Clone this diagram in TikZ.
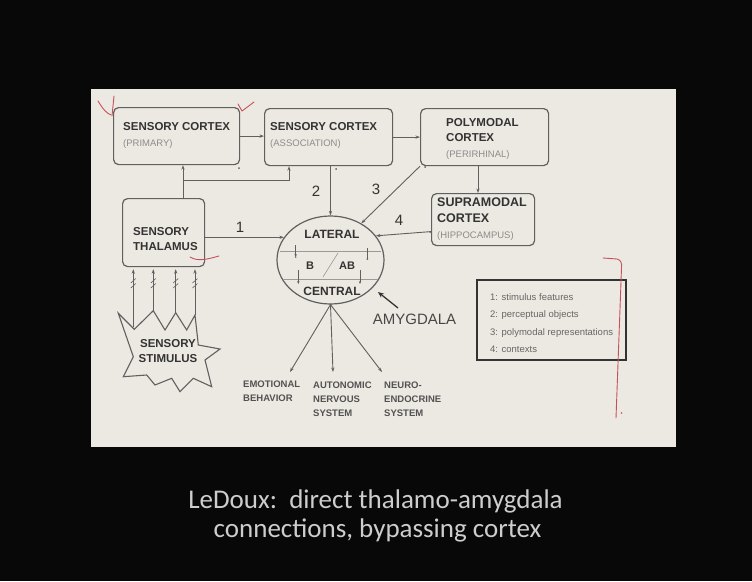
\documentclass[tikz,border=0pt]{standalone}
\usepackage{fontspec}
\setmainfont{Liberation Sans}
\newfontfamily\capfont{Carlito}
\usetikzlibrary{arrows.meta,shapes.geometric,calc}
\definecolor{slidebg}{HTML}{ECE9E2}
\definecolor{ink}{HTML}{333333}
\definecolor{lineg}{HTML}{606060}
\definecolor{subg}{HTML}{8C8C8C}
\definecolor{innerg}{HTML}{9A9A9A}
\definecolor{legtxt}{HTML}{666666}
\definecolor{penred}{HTML}{C8505C}
\definecolor{captxt}{HTML}{CDCDCD}
\newcommand\boxsub[1]{{\mdseries\fontsize{9.5}{15.5}\selectfont\color{subg}#1}}
\begin{document}
\begin{tikzpicture}[x=1pt,y=-1pt,
  box/.style={draw=lineg,line width=1.2pt,rounded corners=5pt,anchor=north west,inner sep=0pt},
  ttl/.style={anchor=west,align=left,inner sep=0pt,text=ink,font=\bfseries\fontsize{11.5}{15.5}\selectfont},
  inl/.style={inner sep=0pt,text=ink,font=\bfseries\fontsize{12}{12}\selectfont},
  outl/.style={anchor=west,align=left,inner sep=0pt,text=ink!85,font=\bfseries\fontsize{9.5}{14}\selectfont},
  conn/.style={draw=lineg,line width=0.9pt},
  arr/.style={conn,-{Stealth[length=4.5pt,width=3.2pt]}},
  iarr/.style={draw=lineg,line width=0.6pt,-{Stealth[length=3pt,width=2.4pt]}},
  num/.style={inner sep=0pt,text=ink,font=\fontsize{15}{15}\selectfont},
  pen/.style={draw=penred,line width=0.9pt,line cap=round,line join=round},
  brk/.style={draw=lineg,line width=0.6pt},
  dotm/.style={fill=lineg,circle,inner sep=0pt,minimum size=2pt}
]
\useasboundingbox (0,0) rectangle (752,581);
\fill[black!97] (0,0) rectangle (752,581);
\fill[slidebg] (91,89) rectangle (676,447);

% boxes
\node[box,minimum width=126pt,minimum height=57pt] (prim) at (113,107) {};
\node[box,minimum width=128pt,minimum height=57pt] (assoc) at (264,108) {};
\node[box,minimum width=128pt,minimum height=57pt] (poly) at (420,108) {};
\node[box,minimum width=103pt,minimum height=52pt] (supra) at (431,193) {};
\node[box,minimum width=82pt,minimum height=68pt] (thal) at (122,198) {};

\node[ttl] (primt) at (123,135.5) {SENSORY CORTEX\\\boxsub{(PRIMARY)}};
\node[ttl] (assoct) at (270,135.5) {SENSORY CORTEX\\\boxsub{(ASSOCIATION)}};
\node[ttl] (polyt) at (446,138.5) {POLYMODAL\\CORTEX\\\boxsub{(PERIRHINAL)}};
\node[ttl,font=\bfseries\fontsize{12.5}{16}\selectfont] (suprat) at (437,219) {SUPRAMODAL\\CORTEX\\\boxsub{(HIPPOCAMPUS)}};
\node[ttl] (thalt) at (133,239) {SENSORY\\THALAMUS};

% amygdala
\node[draw=lineg,line width=1.2pt,ellipse,minimum width=107pt,minimum height=88pt,inner sep=0pt] (amy) at (330.5,260) {};
\draw[innerg,line width=0.6pt] (280,251) -- (381,251);
\draw[innerg,line width=0.6pt] (283,279) -- (378,279);
\draw[innerg,line width=0.6pt] (323,277) -- (338,253);
\node[inl] (lat) at (332,234) {LATERAL};
\node[inl] (cen) at (332,291) {CENTRAL};
\node[inl,font=\bfseries\fontsize{11}{11}\selectfont] (bn) at (310,266) {B};
\node[inl,font=\bfseries\fontsize{11}{11}\selectfont] (abn) at (347,266) {AB};
\coordinate (la1) at (295.7,245); \coordinate (lb1) at (295.7,257);
\coordinate (la2) at (298.3,270); \coordinate (lb2) at (298.3,284);
\coordinate (ra1) at (367.3,248); \coordinate (rb1) at (367.3,259);
\coordinate (ra2) at (360,270); \coordinate (rb2) at (360,284);
\draw[iarr] (la1) -- (lb1);
\draw[iarr] (la2) -- (lb2);
\draw[draw=lineg,line width=0.6pt] (ra1) -- (rb1);
\fill[lineg] (rb1) circle (1pt);
\fill[lineg] (lb1) circle (0.8pt);
\draw[iarr] (ra2) -- (rb2);

% cortex connections
\draw[arr] (prim.east) -- (prim.east -| assoc.west);
\draw[arr] (assoc.east) -- (assoc.east -| poly.west);
\coordinate (j1) at (183,180);
\coordinate (j2) at (289,180);
\draw[arr] (thal.north -| j1) -- (prim.south -| j1);
\draw[arr] (j1) -- (j2) -- (assoc.south -| j2);
\draw[arr] (assoc.south -| amy.north) -- (amy.north);
\draw[arr] (thal.east |- amy.154) -- (amy.154);
\draw[arr] (poly.south west) -- (amy.50);
\draw[arr] ($(supra.west)+(0,12)$) -- (amy.28);
\draw[arr] ($(poly.south west)+(58,0)$) -- ($(supra.north west)+(47,0)$);
\node[dotm] (d1) at (239,168) {};
\node[dotm] (d2) at (336,169) {};
\node[dotm] (d3) at (425,167) {};
\node[dotm] (d4) at (430,232) {};

\node[num] (n1) at (240,227) {1};
\node[num] (n2) at (316,191) {2};
\node[num] (n3) at (376,189) {3};
\node[num] (n4) at (399,220) {4};

% outputs
\coordinate (e1) at (290,372);
\coordinate (e2) at (333,372);
\coordinate (e3) at (382,372);
\fill[lineg] (amy.south) circle (1pt);
\draw[arr] (amy.south) -- (e1);
\draw[arr] (amy.south) -- (e2);
\draw[arr] (amy.south) -- (e3);
\node[outl] (emo) at (243,391.5) {EMOTIONAL\\BEHAVIOR};
\node[outl] (auto) at (313,399) {AUTONOMIC\\NERVOUS\\SYSTEM};
\node[outl] (neuro) at (384,399) {NEURO-\\ENDOCRINE\\SYSTEM};

% amygdala label
\node[inner sep=0pt,text=ink!90,font=\fontsize{15}{15}\selectfont] (amyl) at (414.5,319) {AMYGDALA};
\coordinate (amytail) at (398,308);
\coordinate (amytip) at (378,292);
\draw[draw=ink,line width=1.3pt,-{Stealth[length=6pt,width=5pt]}] (amytail) -- (amytip);

% stimulus
\draw[lineg,line width=1.1pt,line join=miter] (118.3,313.3) -- (134.3,329.3) -- (153.3,310.7) -- (165,330) -- (175.7,312.7) -- (186.7,330) -- (195,315) -- (198.3,345) -- (220,349) -- (205,360) -- (211.7,386.7) -- (193.3,378.3) -- (180,391.7) -- (171.7,378.3) -- (155,385) -- (146.7,375) -- (123.3,376.7) -- (133.3,356.7) -- cycle;
\node[align=center,inner sep=0pt,text=ink,font=\bfseries\fontsize{11.5}{15}\selectfont] (stim) at (168,351.5) {SENSORY\\STIMULUS};
\foreach \i/\x/\y in {1/133.3/327,2/153.3/311,3/175.7/313,4/195/315} {
  \coordinate (s\i) at (\x,\y);
  \draw[arr,shorten >=2pt] (s\i) -- (thal.south -| s\i);
  \draw[brk] (\x-2.5,283) -- (\x+2.5,278.5);
  \draw[brk] (\x-2.5,288) -- (\x+2.5,283.5);
}

% legend
\node[draw=ink,line width=1.5pt,anchor=north west,minimum width=149pt,minimum height=80pt,inner sep=0pt] (leg) at (476,279) {};
\node[anchor=west,align=left,inner sep=0pt,text=legtxt,font=\fontsize{9.5}{17.3}\selectfont] (legt) at (490,323) {1: stimulus features\\2: perceptual objects\\3: polymodal representations\\4: contexts};

% pen marks
\draw[pen] (98,101) .. controls (103,109) and (106,113) .. (111,115);
\draw[pen] (114,96) -- (112,116);
\draw[pen] (238,104) -- (242,111) -- (254,102);
\draw[pen] (190,257) .. controls (198,262) and (208,259) .. (219,256);
\draw[pen] (603,258) -- (617,259) .. controls (621,260) and (622,263) .. (621.5,268) -- (616,418);
\fill[penred] (621.5,413) circle (0.8pt);

% caption
\node[anchor=base,inner sep=0pt,text=captxt,font=\capfont\fontsize{27}{27}\selectfont] (cap1) at (375.5,508) {LeDoux:\ \ direct thalamo-amygdala};
\node[anchor=base,inner sep=0pt,text=captxt,font=\capfont\fontsize{27}{27}\selectfont] (cap2) at (377.5,537) {connections, bypassing cortex};
\end{tikzpicture}
\end{document}
